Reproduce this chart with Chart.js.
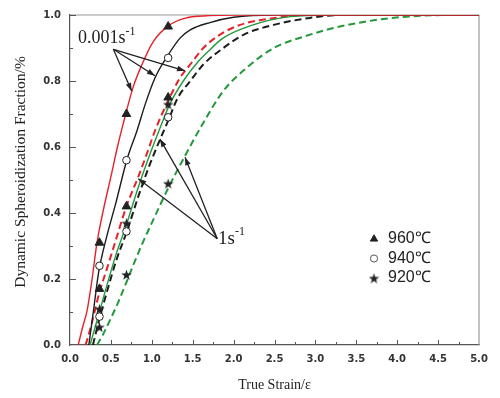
<!DOCTYPE html>
<html>
<head>
<meta charset="utf-8">
<script src="https://cdn.jsdelivr.net/npm/chart.js@4.4.1/dist/chart.umd.min.js"></script>
<style>
html,body{margin:0;padding:0;background:#fff;}
#wrap{width:500px;height:398px;}
</style>
</head>
<body>
<div id="wrap"><canvas id="myChart" width="500" height="398"></canvas></div>
<script>
// temperatures (legend) and the strains where measured points sit
const temps = ['960℃', '940℃', '920℃'];
const markerStrain = [0.36, 0.69, 1.2];

// measured points, 0.001 s-1 and 1 s-1
const tri_slow  = [0.31, 0.70, 0.965];
const tri_fast  = [0.17, 0.42, 0.75];
const circ_slow = [0.24, 0.56, 0.87];
const circ_fast = [0.086, 0.344, 0.69];
const star_slow = [0.11, 0.37, 0.73];
const star_fast = [0.055, 0.214, 0.49];

// model curves
const red_slow_x = [0.10, 0.15, 0.21, 0.27, 0.33, 0.40, 0.50, 0.58, 0.65, 0.77, 0.88, 1.02, 1.20, 1.40, 1.70, 2.0, 2.5, 5.0];
const red_slow_y = [0, 0.05, 0.106, 0.20, 0.31, 0.40, 0.51, 0.60, 0.67, 0.78, 0.85, 0.92, 0.967, 0.99, 0.998, 1, 1, 1];

const blk_slow_x = [0.23, 0.285, 0.35, 0.44, 0.56, 0.70, 0.82, 0.92, 1.04, 1.19, 1.345, 1.47, 1.71, 2.0, 2.5, 5.0];
const blk_slow_y = [0, 0.10, 0.22, 0.32, 0.43, 0.565, 0.65, 0.73, 0.81, 0.875, 0.93, 0.955, 0.977, 0.993, 1, 1];

const grn_slow_x = [0.245, 0.36, 0.45, 0.57, 0.67, 0.835, 0.98, 1.12, 1.22, 1.385, 1.57, 1.67, 1.87, 2.2, 2.69, 3.2, 5.0];
const grn_slow_y = [0, 0.10, 0.18, 0.28, 0.35, 0.478, 0.58, 0.67, 0.73, 0.80, 0.86, 0.885, 0.93, 0.967, 0.995, 1, 1];

const red_fast_x = [0.19, 0.25, 0.30, 0.36, 0.45, 0.55, 0.69, 0.835, 0.94, 1.04, 1.2, 1.345, 1.47, 1.63, 1.83, 2.08, 2.48, 2.9, 5.0];
const red_fast_y = [0, 0.05, 0.10, 0.16, 0.23, 0.31, 0.42, 0.51, 0.58, 0.65, 0.74, 0.81, 0.85, 0.90, 0.94, 0.97, 0.99, 1, 1];

const blk_fast_x = [0.28, 0.36, 0.45, 0.57, 0.69, 0.835, 0.98, 1.2, 1.32, 1.47, 1.63, 1.875, 2.12, 2.49, 2.9, 3.3, 5.0];
const blk_fast_y = [0, 0.08, 0.16, 0.26, 0.34, 0.45, 0.55, 0.68, 0.75, 0.80, 0.85, 0.90, 0.94, 0.97, 0.99, 1, 1];

const grn_fast_x = [0.33, 0.40, 0.49, 0.59, 0.69, 0.77, 0.88, 1.0, 1.2, 1.41, 1.61, 1.875, 2.16, 2.49, 2.89, 3.3, 3.83, 4.24, 4.65, 5.0];
const grn_fast_y = [0, 0.03, 0.076, 0.13, 0.19, 0.24, 0.305, 0.37, 0.475, 0.575, 0.665, 0.77, 0.84, 0.90, 0.937, 0.965, 0.988, 0.997, 1, 1];

// annotation anchors, in data units
const slowLabelAt = [0.098, 0.916];
const slowArrowFrom = [0.53, 0.896];
const slowArrowTo = [[0.754, 0.770], [1.039, 0.816], [1.406, 0.831]];
const fastLabelAt = [1.81, 0.305];
const fastArrowFrom = [1.80, 0.322];
const fastArrowTo = [[0.835, 0.504], [1.10, 0.624], [1.406, 0.569]];

const yTitle = 'Dynamic Spheroidization Fraction/%';

const RED = '#e5222a', BLACK = '#1c1c1c', GREEN = '#22993c';

function pts(xs, ys) {
	return xs.map((x, i) => ({x: x, y: ys[i]}));
}

function makeStar(size, color) {
	const c = document.createElement('canvas');
	c.width = size; c.height = size;
	const g = c.getContext('2d');
	g.fillStyle = color;
	g.beginPath();
	for (let i = 0; i < 10; i++) {
		const r = (i % 2) ? size * 0.2 : size * 0.5;
		const a = -Math.PI / 2 + i * Math.PI / 5;
		g.lineTo(size / 2 + r * Math.cos(a), size / 2 + 0.8 + r * Math.sin(a));
	}
	g.closePath();
	g.fill();
	return c;
}
const starImg = makeStar(11, '#222');

function curve(xs, ys, color, dashed) {
	return {
		data: pts(xs, ys),
		showLine: true,
		borderColor: color,
		borderWidth: dashed ? 2 : 1.4,
		borderDash: dashed ? [7, 4] : [],
		pointRadius: 0,
		cubicInterpolationMode: 'monotone',
		order: 2
	};
}

function markers(ys, style, fill) {
	return {
		data: pts(markerStrain, ys),
		pointStyle: style,
		pointRadius: style === 'circle' ? 3.8 : 5,
		pointBackgroundColor: fill,
		pointBorderColor: '#222',
		pointBorderWidth: 1,
		showLine: false,
		order: 0
	};
}

const markerStyles = [
	{pointStyle: 'triangle', radius: 4.2, fill: '#222', stroke: '#222'},
	{pointStyle: 'circle', radius: 3.6, fill: '#fff', stroke: '#555'},
	{pointStyle: starImg, radius: 5, fill: '#222', stroke: '#222'}
];

function arrow(ctx, x1, y1, x2, y2) {
	ctx.beginPath();
	ctx.moveTo(x1, y1);
	ctx.lineTo(x2, y2);
	ctx.stroke();
	const a = Math.atan2(y2 - y1, x2 - x1), L = 8, W = 2.8;
	ctx.beginPath();
	ctx.moveTo(x2, y2);
	ctx.lineTo(x2 - L * Math.cos(a) + W * Math.sin(a), y2 - L * Math.sin(a) - W * Math.cos(a));
	ctx.lineTo(x2 - L * Math.cos(a) - W * Math.sin(a), y2 - L * Math.sin(a) + W * Math.cos(a));
	ctx.closePath();
	ctx.fill();
}

// top/right frame and the inward tick marks
const framePlugin = {
	id: 'frame',
	beforeDatasetsDraw(chart) {
		const {ctx, chartArea: a, scales: {x, y}} = chart;
		ctx.save();
		ctx.strokeStyle = '#9a9a9a';
		ctx.lineWidth = 1.2;
		ctx.beginPath();
		ctx.moveTo(a.left, a.top); ctx.lineTo(a.right, a.top); ctx.lineTo(a.right, a.bottom);
		ctx.stroke();
		ctx.strokeStyle = '#555';
		ctx.lineWidth = 1;
		ctx.beginPath();
		for (let v = 0.25; v < 5; v += 0.25) {
			const px = Math.round(x.getPixelForValue(v)) + 0.5;
			const len = (Math.round(v * 4) % 2 === 0) ? 5 : 3;
			ctx.moveTo(px, a.bottom); ctx.lineTo(px, a.bottom - len);
		}
		for (let v = 0.1; v < 1; v += 0.1) {
			const py = Math.round(y.getPixelForValue(v)) + 0.5;
			const len = (Math.round(v * 10) % 2 === 0) ? 6 : 3;
			ctx.moveTo(a.left, py); ctx.lineTo(a.left + len, py);
		}
		ctx.stroke();

		// y axis title, set a bit above centre like the original
		ctx.fillStyle = '#222';
		ctx.font = '15.5px "Liberation Serif", serif';
		ctx.textAlign = 'center';
		ctx.textBaseline = 'middle';
		ctx.translate(21, (a.top + a.bottom) / 2 - 8);
		ctx.rotate(-Math.PI / 2);
		ctx.fillText(yTitle, 0, 0);
		ctx.restore();
	},
	afterDraw(chart) {
		const {ctx, scales: {x, y}} = chart;
		ctx.save();
		ctx.strokeStyle = '#222';
		ctx.fillStyle = '#222';
		ctx.lineWidth = 1.3;
		const f1 = [x.getPixelForValue(slowArrowFrom[0]), y.getPixelForValue(slowArrowFrom[1])];
		slowArrowTo.forEach(p => arrow(ctx, f1[0], f1[1], x.getPixelForValue(p[0]), y.getPixelForValue(p[1])));
		const f2 = [x.getPixelForValue(fastArrowFrom[0]), y.getPixelForValue(fastArrowFrom[1])];
		fastArrowTo.forEach(p => arrow(ctx, f2[0], f2[1], x.getPixelForValue(p[0]), y.getPixelForValue(p[1])));

		// rate labels
		ctx.textBaseline = 'alphabetic';
		ctx.textAlign = 'left';
		let lx = x.getPixelForValue(slowLabelAt[0]), ly = y.getPixelForValue(slowLabelAt[1]);
		ctx.font = '18px "Liberation Serif", serif';
		ctx.fillText('0.001s', lx, ly);
		let w = ctx.measureText('0.001s').width;
		ctx.font = '12px "Liberation Serif", serif';
		ctx.fillText('-1', lx + w, ly - 8);

		lx = x.getPixelForValue(fastLabelAt[0]); ly = y.getPixelForValue(fastLabelAt[1]);
		ctx.font = '19px "Liberation Serif", serif';
		ctx.fillText('1s', lx, ly);
		w = ctx.measureText('1s').width;
		ctx.font = '12px "Liberation Serif", serif';
		ctx.fillText('-1', lx + w, ly - 9);

		// legend
		ctx.font = '16px "Liberation Sans", Arial, sans-serif';
		ctx.textBaseline = 'middle';
		temps.forEach((t, i) => {
			const cy = 239 + i * 19.5;
			const m = markerStyles[i];
			ctx.fillStyle = m.fill;
			ctx.strokeStyle = m.stroke;
			ctx.lineWidth = 1;
			Chart.helpers.drawPoint(ctx, {pointStyle: m.pointStyle, radius: m.radius, rotation: 0, borderWidth: 1}, 374, cy);
			ctx.fillStyle = '#222';
			ctx.fillText(t, 388, cy);
		});
		ctx.restore();
	}
};

const tickFont = {family: '"DejaVu Sans", Verdana, sans-serif', size: 10, weight: 'bold'};

const chart = new Chart(document.getElementById('myChart'), {
	type: 'scatter',
	data: {
		datasets: [
			curve(red_slow_x, red_slow_y, RED, false),
			curve(blk_slow_x, blk_slow_y, BLACK, false),
			curve(grn_slow_x, grn_slow_y, GREEN, false),
			curve(red_fast_x, red_fast_y, RED, true),
			curve(blk_fast_x, blk_fast_y, BLACK, true),
			curve(grn_fast_x, grn_fast_y, GREEN, true),
			markers(tri_slow, 'triangle', '#222'),
			markers(tri_fast, 'triangle', '#222'),
			markers(circ_slow, 'circle', '#fff'),
			markers(circ_fast, 'circle', '#fff'),
			markers(star_slow, starImg, '#222'),
			markers(star_fast, starImg, '#222')
		]
	},
	options: {
		responsive: false,
		animation: false,
		layout: {padding: {top: 14, right: 21, left: 0, bottom: 0}},
		plugins: {legend: {display: false}, tooltip: {enabled: false}},
		scales: {
			x: {
				type: 'linear', min: 0, max: 5,
				afterFit: s => { s.height = 53; },
				grid: {display: false, drawTicks: false},
				border: {display: true, color: '#555', width: 1.2},
				ticks: {stepSize: 0.5, padding: 8, color: '#333', font: tickFont,
					callback: v => v.toFixed(1)},
				title: {display: true, text: 'True Strain/ε', color: '#222',
					font: {family: '"Liberation Serif", serif', size: 14}, padding: {top: 8}}
			},
			y: {
				type: 'linear', min: 0, max: 1,
				afterFit: s => { s.width = 70; },
				grid: {display: false, drawTicks: false},
				border: {display: true, color: '#555', width: 1.2},
				ticks: {stepSize: 0.2, padding: 9, color: '#333', font: tickFont,
					callback: v => v.toFixed(1)}
			}
		}
	},
	plugins: [framePlugin]
});
</script>
</body>
</html>
